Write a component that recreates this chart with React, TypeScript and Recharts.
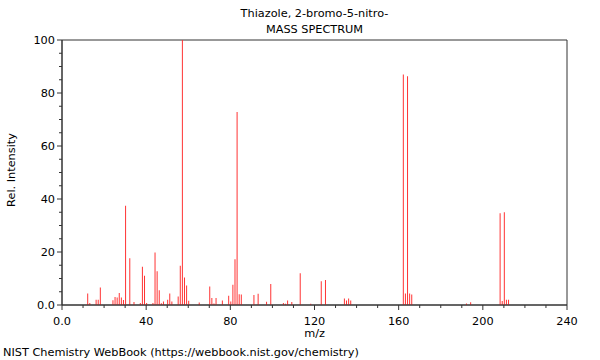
import { BarChart, Bar, XAxis, YAxis, ReferenceArea } from 'recharts'

// m/z values and relative intensities
const MZ = [
  12, 13, 16, 17, 18, 24, 25, 26, 27, 28, 29, 30, 32, 34, 37, 38, 39, 40, 43, 44,
  45, 46, 47, 48, 50, 51, 52, 55, 56, 57, 58, 59, 60, 65, 70, 71, 72, 73, 76, 79,
  80, 81, 82, 83, 84, 85, 91, 93, 97, 99, 105, 106, 107, 109, 113, 118, 123, 125, 134, 135,
  136, 137, 162, 163, 164, 165, 166, 192, 194, 208, 209, 210, 211, 212,
]
const INTENSITY = [
  4.3, 0.8, 2.0, 2.0, 6.6, 1.8, 3.0, 2.8, 4.5, 2.8, 1.9, 37.5, 17.6, 1.1, 0.8, 14.4, 11.0, 0.8, 0.8, 19.8,
  12.7, 5.6, 0.7, 1.3, 2.0, 4.3, 1.3, 3.2, 14.8, 100, 10.4, 7.4, 1.6, 0.9, 7.0, 2.6, 0.6, 2.6, 1.7, 3.5,
  1.3, 7.6, 17.3, 72.8, 4.1, 4.0, 3.8, 4.2, 1.2, 7.9, 0.8, 0.5, 1.7, 1.1, 12.0, 0.5, 9.0, 9.4, 2.5, 1.7,
  2.5, 1.7, 87.0, 4.3, 86.3, 4.3, 4.0, 0.6, 1.0, 34.6, 1.5, 35.0, 2.0, 2.0,
]
const X_TICKS = [0, 10, 20, 30, 40, 50, 60, 70, 80, 90, 100, 110, 120, 130, 140, 150, 160, 170, 180, 190, 200, 210, 220, 230, 240]
const Y_TICKS = [0, 5, 10, 15, 20, 25, 30, 35, 40, 45, 50, 55, 60, 65, 70, 75, 80, 85, 90, 95, 100]

const data = MZ.map((mz, i) => ({ mz, intensity: INTENSITY[i] }))

const AXIS = '#333'
const FONT = '"DejaVu Sans", sans-serif'
const label = (v: number) => (v === 0 ? '0.0' : String(v))

const XTick = ({ x, y, payload }: any) => {
  const major = payload.value % 40 === 0
  return (
    <g>
      <line x1={x} x2={x} y1={y} y2={y + (major ? 5 : 3)} stroke={AXIS} />
      {major && (
        <text x={x} y={y + 20} textAnchor="middle" fontSize={11.3} fontFamily={FONT} fill="#000">
          {label(payload.value)}
        </text>
      )}
    </g>
  )
}

const YTick = ({ x, y, payload }: any) => {
  const major = payload.value % 20 === 0
  return (
    <g>
      <line x1={x} x2={x - (major ? 5 : 3)} y1={y} y2={y} stroke={AXIS} />
      {major && (
        <text x={x - 7} y={y + 4} textAnchor="end" fontSize={11.3} fontFamily={FONT} fill="#000">
          {label(payload.value)}
        </text>
      )}
    </g>
  )
}

export default function App() {
  return (
    <div style={{ position: 'absolute', left: 0, top: 0, width: 600, height: 360, fontFamily: FONT, fontSize: 11.3, color: '#000', background: '#fff' }}>
      <div style={{ position: 'absolute', left: 62, width: 505, top: 6, textAlign: 'center', lineHeight: '16px' }}>
        Thiazole, 2-bromo-5-nitro-
        <br />
        MASS SPECTRUM
      </div>
      <div style={{ position: 'absolute', left: 12, top: 170, width: 0, height: 0 }}>
        <div style={{ position: 'absolute', transform: 'translate(-50%, -50%) rotate(-90deg)', whiteSpace: 'nowrap', lineHeight: '14px' }}>
          Rel. Intensity
        </div>
      </div>
      <div style={{ position: 'absolute', left: 62, width: 505, top: 328, textAlign: 'center', lineHeight: '12px' }}>m/z</div>
      <div style={{ position: 'absolute', left: 3, top: 346, whiteSpace: 'nowrap', lineHeight: '14px' }}>
        NIST Chemistry WebBook (https://webbook.nist.gov/chemistry)
      </div>
      <BarChart width={600} height={360} data={data} margin={{ top: 40, right: 33, bottom: 0, left: 0 }}>
        <XAxis
          dataKey="mz"
          type="number"
          domain={[0, 240]}
          ticks={X_TICKS}
          interval={0}
          height={55}
          tick={<XTick />}
          tickLine={false}
          tickSize={0}
          tickMargin={0}
          axisLine={{ stroke: AXIS }}
        />
        <YAxis
          type="number"
          domain={[0, 100]}
          ticks={Y_TICKS}
          interval={0}
          width={62}
          tick={<YTick />}
          tickLine={false}
          tickSize={0}
          tickMargin={0}
          axisLine={{ stroke: AXIS }}
        />
        <ReferenceArea x1={0} x2={240} y1={0} y2={100} fill="none" stroke={AXIS} />
        <Bar dataKey="intensity" fill="#ff3333" barSize={1} isAnimationActive={false} />
      </BarChart>
    </div>
  )
}
